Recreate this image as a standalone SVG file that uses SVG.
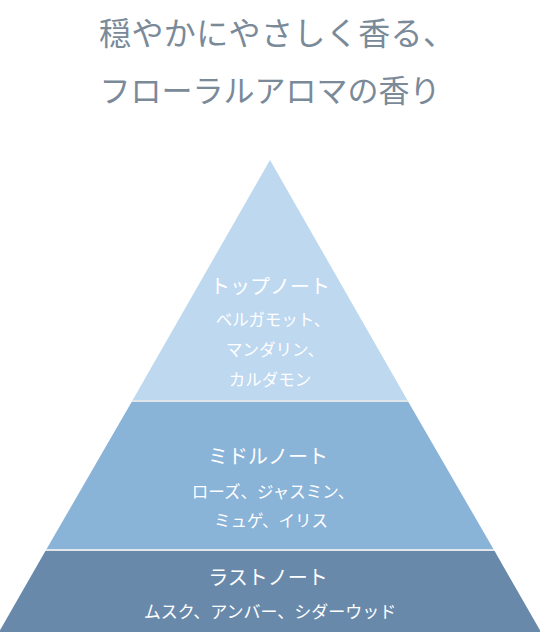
<svg xmlns="http://www.w3.org/2000/svg" width="540" height="632" viewBox="0 0 540 632">
<style>
text{font-family:"Noto Sans CJK JP","Noto Sans",sans-serif;text-anchor:middle}
.title{font-size:31px;fill:#7a8a99}
.head{font-size:20px;fill:#ffffff}
.sub{font-size:16.5px;fill:#ffffff}
.sep{stroke:#e1e6ea;stroke-width:2}
</style>
<rect width="540" height="632" fill="#ffffff"/>
<g id="title">
<text class="title" x="99" y="45" style="text-anchor:start;font-size:32px" textLength="356" lengthAdjust="spacing">穏やかにやさしく香る、</text>
<text class="title" x="270" y="102">フローラルアロマの香り</text>
</g>
<g id="top">
<polygon points="270,160 407.3,400 132.7,400" fill="#bed8f0"/>
<text class="head" x="270" y="294">トップノート</text>
<text class="sub" x="273" y="326">ベルガモット、</text>
<text class="sub" x="275" y="356">マンダリン、</text>
<text class="sub" x="270" y="386">カルダモン</text>
</g>
<g id="middle">
<polygon points="131.6,402 408.4,402 493.4,549 46.6,549" fill="#8ab3d8"/>
<text class="head" x="268" y="464">ミドルノート</text>
<text class="sub" x="273" y="498">ローズ、ジャスミン、</text>
<text class="sub" x="271" y="527">ミュゲ、イリス</text>
</g>
<g id="bottom">
<polygon points="45.4,551 494.6,551 541,632 -1,632" fill="#6989ab"/>
<text class="head" x="268" y="585">ラストノート</text>
<text class="sub" x="270" y="618" style="font-size:17px">ムスク、アンバー、シダーウッド</text>
</g>
<g id="connectors">
<line class="sep" x1="132.1" y1="401" x2="407.9" y2="401"/>
<line class="sep" x1="46" y1="550" x2="494" y2="550"/>
</g>
</svg>
